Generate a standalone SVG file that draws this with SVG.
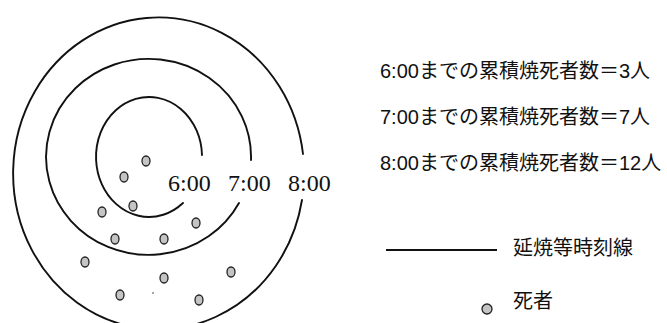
<svg xmlns="http://www.w3.org/2000/svg" width="667" height="323" viewBox="0 0 667 323">
<style>
.iso{fill:none;stroke:#111;stroke-width:1.9;stroke-linecap:round}
.dead{fill:#c4c4c4;stroke:#222;stroke-width:1.3}
.tl{font-family:"Liberation Serif","Times New Roman",serif;font-size:24px;fill:#111}
.jp{font-family:"Liberation Sans","Noto Sans CJK JP",sans-serif;font-size:20px;fill:#111}
</style>
<rect width="667" height="323" fill="#fff"/>
<g id="connectors">
<path id="line-6" class="iso" d="M 202 155 A 53 60 0 1 0 183 203"/>
<path id="line-7" class="iso" d="M 251 160 A 102.5 98 0 1 0 239 203"/>
<path id="line-8" class="iso" d="M 303 154 A 145.5 156 0 1 0 302 200"/>
</g>
<g id="time-labels">
<text class="tl" x="168" y="191">6:00</text>
<text class="tl" x="228" y="191">7:00</text>
<text class="tl" x="288" y="191">8:00</text>
</g>
<g id="deaths">
<ellipse class="dead" cx="146" cy="161" rx="4" ry="5"/>
<ellipse class="dead" cx="124" cy="177" rx="4" ry="5"/>
<ellipse class="dead" cx="133" cy="206" rx="4" ry="5"/>
<ellipse class="dead" cx="102" cy="212" rx="4" ry="5"/>
<ellipse class="dead" cx="196" cy="223" rx="4" ry="5"/>
<ellipse class="dead" cx="115" cy="239" rx="4" ry="5"/>
<ellipse class="dead" cx="164" cy="239" rx="4" ry="5"/>
<ellipse class="dead" cx="85" cy="262" rx="4" ry="5"/>
<ellipse class="dead" cx="164" cy="278" rx="4" ry="5"/>
<ellipse class="dead" cx="231" cy="272" rx="4" ry="5"/>
<ellipse class="dead" cx="120" cy="295" rx="4" ry="5"/>
<ellipse class="dead" cx="199" cy="300" rx="4" ry="5"/>
<circle cx="153" cy="293" r="0.8" fill="#333"/>
</g>
<g id="counts">
<text class="jp" x="380" y="78">6:00までの累積焼死者数＝3人</text>
<text class="jp" x="380" y="124">7:00までの累積焼死者数＝7人</text>
<text class="jp" x="380" y="170">8:00までの累積焼死者数＝12人</text>
</g>
<g id="legend">
<line x1="386" y1="250" x2="497" y2="250" stroke="#111" stroke-width="1.8"/>
<text class="jp" x="513" y="255">延焼等時刻線</text>
<circle class="dead" cx="487" cy="309" r="5"/>
<text class="jp" x="513" y="308">死者</text>
</g>
</svg>
